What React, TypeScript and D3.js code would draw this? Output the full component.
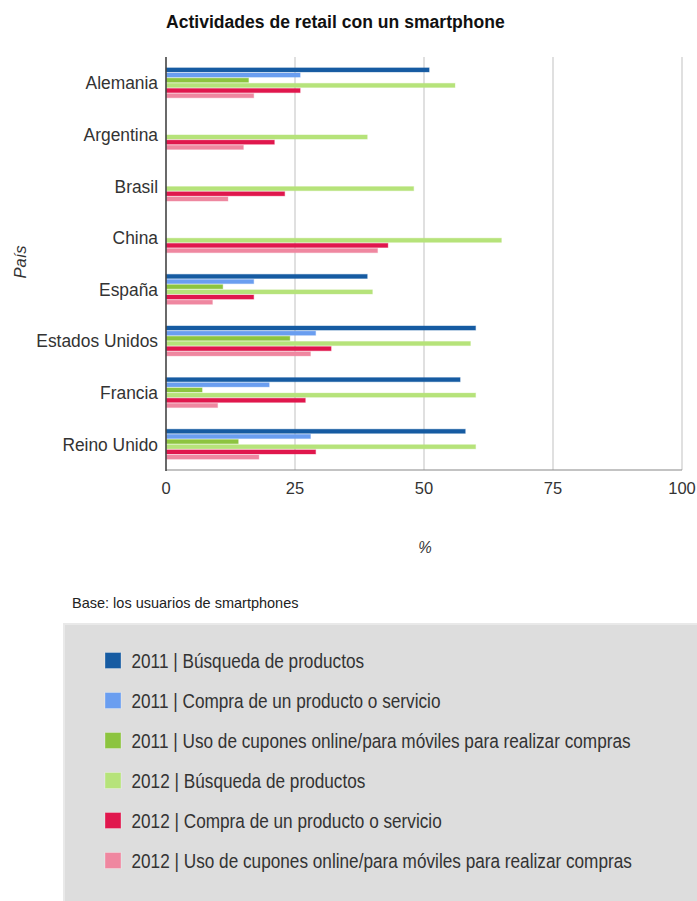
import React from "react";
import * as d3 from "d3";

const categories = ["Alemania", "Argentina", "Brasil", "China", "España", "Estados Unidos", "Francia", "Reino Unido"];
const seriesNames = [
  "2011 | Búsqueda de productos",
  "2011 | Compra de un producto o servicio",
  "2011 | Uso de cupones online/para móviles para realizar compras",
  "2012 | Búsqueda de productos",
  "2012 | Compra de un producto o servicio",
  "2012 | Uso de cupones online/para móviles para realizar compras",
];
const busqueda2011: (number | null)[] = [51, null, null, null, 39, 60, 57, 58];
const compra2011: (number | null)[] = [26, null, null, null, 17, 29, 20, 28];
const cupones2011: (number | null)[] = [16, null, null, null, 11, 24, 7, 14];
const busqueda2012: (number | null)[] = [56, 39, 48, 65, 40, 59, 60, 60];
const compra2012: (number | null)[] = [26, 21, 23, 43, 17, 32, 27, 29];
const cupones2012: (number | null)[] = [17, 15, 12, 41, 9, 28, 10, 18];
const seriesValues = [busqueda2011, compra2011, cupones2011, busqueda2012, compra2012, cupones2012];
const colors = ["#165ba2", "#6a9ef0", "#8cc43f", "#b6e37a", "#e0174d", "#ef87a0"];
const xTicks = [0, 25, 50, 75, 100];

const FONT = "'Liberation Sans', Arial, sans-serif";

function SText(props: { x: number; y: number; sx?: number; size: number; anchor?: string; weight?: string; fill?: string; style?: string; children: React.ReactNode; rotate?: number }) {
  const { x, y, sx = 1, size, anchor = "start", weight = "normal", fill = "#333", style = "normal", rotate = 0 } = props;
  return (
    <text
      transform={`translate(${x},${y}) rotate(${rotate}) scale(${sx},1)`}
      fontFamily={FONT}
      fontSize={size}
      fontWeight={weight}
      fontStyle={style}
      textAnchor={anchor}
      fill={fill}
    >
      {props.children}
    </text>
  );
}

export default function App() {
  const W = 697;
  const H = 901;
  const x = d3.scaleLinear().domain([0, 100]).range([166, 682]);
  const y0 = d3.scaleBand<string>().domain(categories).range([57, 470]).paddingInner(0.38).paddingOuter(0.19);
  const y1 = d3
    .scaleBand<string>()
    .domain(seriesNames)
    .range([0, y0.bandwidth()])
    .paddingInner(0.2)
    .paddingOuter(0.2);

  return (
    <svg width={W} height={H} style={{ position: "absolute", left: 0, top: 0, display: "block" }}>
      <rect x={0} y={0} width={W} height={H} fill="#fff" />
      <SText x={166} y={28} size={18.5} sx={0.95} weight="bold" fill="#111">
        Actividades de retail con un smartphone
      </SText>

      {/* grid lines */}
      {xTicks.slice(1).map((t) => (
        <line key={t} x1={x(t)} x2={x(t)} y1={57} y2={470} stroke="#cccccc" strokeWidth={1.2} />
      ))}

      {/* bars */}
      {categories.map((c, ci) => (
        <g key={c} transform={`translate(0,${y0(c)})`}>
          {seriesValues.map((vals, si) => {
            const v = vals[ci];
            if (v == null) return null;
            return (
              <rect
                key={si}
                x={x(0)}
                y={y1(seriesNames[si])}
                width={x(v) - x(0)}
                height={y1.bandwidth()}
                fill={colors[si]}
                stroke={colors[si]}
                strokeOpacity={0.35}
                strokeWidth={1}
              />
            );
          })}
        </g>
      ))}

      {/* axes */}
      <line x1={166} x2={682} y1={470} y2={470} stroke="#888" strokeWidth={1.2} />
      <line x1={166} x2={166} y1={57} y2={471} stroke="#444" strokeWidth={1.6} />

      {/* category labels */}
      {categories.map((c) => (
        <SText key={c} x={158} y={(y0(c) as number) + y0.bandwidth() / 2 + 6.5} size={18.5} sx={0.94} anchor="end" fill="#333">
          {c}
        </SText>
      ))}

      {/* x tick labels */}
      {xTicks.map((t) => (
        <SText key={t} x={x(t)} y={494} size={16.5} anchor="middle" fill="#333">
          {t}
        </SText>
      ))}

      <SText x={425} y={553} size={16.5} sx={0.92} anchor="middle" fill="#333" style="italic">
        %
      </SText>
      <SText x={26} y={262} size={16.5} anchor="middle" fill="#333" style="italic" rotate={-90}>
        País
      </SText>

      <SText x={72} y={608} size={14.5} sx={1.0} fill="#222">
        Base: los usuarios de smartphones
      </SText>

      {/* legend */}
      <rect x={64} y={624} width={W - 64 + 5} height={H - 624 + 5} fill="#dddddd" stroke="#e9e9e9" strokeWidth={2} />
      {seriesNames.map((s, i) => {
        const cy = 660.5 + i * 40;
        return (
          <g key={s}>
            <rect x={105} y={cy - 8} width={16} height={16} fill={colors[i]} stroke="#fff" strokeOpacity={0.3} strokeWidth={1} />
            <SText x={131.5} y={cy + 7} size={19.5} sx={0.882} fill="#333">
              {s}
            </SText>
          </g>
        );
      })}
    </svg>
  );
}
